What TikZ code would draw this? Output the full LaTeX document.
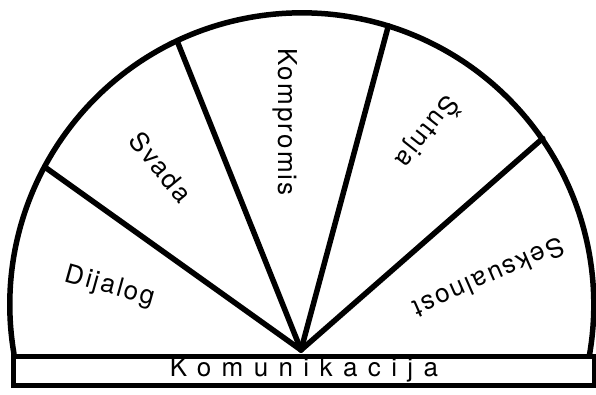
\documentclass[tikz,border=0pt]{standalone}
\usepackage{fontspec}
\setmainfont{TeX Gyre Heros}
\newfontfamily\lblfont[LetterSpace=8]{TeX Gyre Heros}
\newfontfamily\barfont[LetterSpace=40]{TeX Gyre Heros}
\begin{document}
\begin{tikzpicture}[x=1pt,y=-1pt,
  heavy/.style={line width=5.5pt,line cap=round,line join=round},
  lbl/.style={inner sep=0pt,font=\lblfont\fontsize{26}{26}\selectfont},
  barlbl/.style={inner sep=0pt,font=\barfont\fontsize{26}{26}\selectfont}]
\useasboundingbox (0,0) rectangle (596,394);
\coordinate (ctr) at (303,305);
\coordinate (hub) at (301,350);
\path (ctr) ++(208.1:292) coordinate (e1);
\path (ctr) ++(244.5:292) coordinate (e2);
\path (ctr) ++(287:292) coordinate (e3);
\path (ctr) ++(325.2:292) coordinate (e4);
% arc
\draw[heavy] (14,354) arc[start angle=170.3,end angle=369.7,radius=292];
% spokes
\draw[heavy] (hub) -- (e1);
\draw[heavy] (hub) -- (e2);
\draw[heavy] (hub) -- (e3);
\draw[heavy] (hub) -- (e4);
% bar
\node[draw,line width=5pt,minimum width=581pt,minimum height=29pt,inner sep=0pt,anchor=north west] (bar) at (11,354) {};
\node[barlbl] (kom) at ([yshift=1pt]bar.center) {Komunikacija};
% labels
\node[lbl,rotate=-15.6] (dij) at (110,287) {Dijalog};
\node[lbl,rotate=-50.6] (sva) at (161,167) {Svada};
\node[lbl,rotate=-90] (kmp) at (285,122) {Kompromis};
\node[lbl,rotate=231.8] (sut) at (428,132) {\v{S}utnja};
\node[lbl,rotate=203.7] (sek) at (489,278) {Seksualnost};
\end{tikzpicture}
\end{document}
